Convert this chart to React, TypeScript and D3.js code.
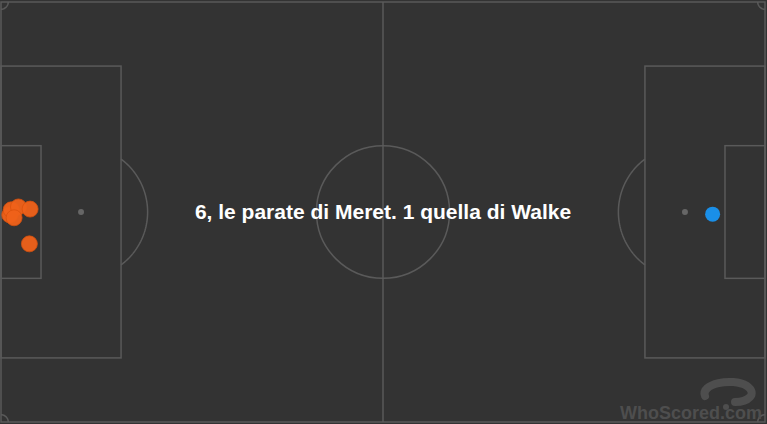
import { useMemo } from "react";
import * as d3 from "d3";

// pitch in metres, as WhoScored draws it
const PITCH_LENGTH = 105;
const PITCH_WIDTH = 58;

// saves, [x, y] in metres from the left goal line / top touchline
const meretSaves: [number, number][] = [
  [1.2, 29.4],
  [1.4, 28.7],
  [2.4, 28.3],
  [4.0, 28.6],
  [1.8, 29.8],
  [3.9, 33.4],
];
const walkeSaves: [number, number][] = [[97.8, 29.3]];

const title = "6, le parate di Meret. 1 quella di Walke";

const W = 767;
const H = 424;

export default function App() {
  const x = useMemo(() => d3.scaleLinear().domain([0, PITCH_LENGTH]).range([1, 765]), []);
  const y = useMemo(() => d3.scaleLinear().domain([0, PITCH_WIDTH]).range([2, 422]), []);

  const lineColor = "#5a5a5a";
  const midY = PITCH_WIDTH / 2;
  const boxDepth = 16.5;
  const boxHalf = 20.15;
  const sixDepth = 5.5;
  const sixHalf = 9.16;
  const circleR = 9.15;
  const spot = 11;

  const rx = x(circleR) - x(0);
  const ry = y(circleR) - y(0);

  // penalty arc outside the box
  const arcAngle = Math.acos((boxDepth - spot) / circleR);
  const arcPath = (side: 1 | -1) => {
    const cx = side === 1 ? spot : PITCH_LENGTH - spot;
    const pts: [number, number][] = d3.range(-arcAngle, arcAngle + 0.001, arcAngle / 30).map((a) => [
      x(cx + side * circleR * Math.cos(a)),
      y(midY + circleR * Math.sin(a)),
    ]);
    return d3.line()(pts) || "";
  };

  const cornerR = 1;
  const corner = (cx: number, cy: number, a0: number, a1: number) => {
    const pts: [number, number][] = d3.range(a0, a1 + 0.001, (a1 - a0) / 12).map((a) => [
      x(cx + cornerR * Math.cos(a)),
      y(cy + cornerR * Math.sin(a)),
    ]);
    return d3.line()(pts) || "";
  };

  return (
    <svg width={W} height={H} style={{ position: "absolute", left: 0, top: 0 }}>
      <rect width={W} height={H} fill="#333333" />
      <g fill="none" stroke={lineColor} strokeWidth={1.5}>
        <rect x={x(0)} y={y(0)} width={x(PITCH_LENGTH) - x(0)} height={y(PITCH_WIDTH) - y(0)} />
        <line x1={x(PITCH_LENGTH / 2)} x2={x(PITCH_LENGTH / 2)} y1={y(0)} y2={y(PITCH_WIDTH)} />
        <ellipse cx={x(PITCH_LENGTH / 2)} cy={y(midY)} rx={rx} ry={ry} />
        {/* left end */}
        <rect x={x(0)} y={y(midY - boxHalf)} width={x(boxDepth) - x(0)} height={y(midY + boxHalf) - y(midY - boxHalf)} />
        <rect x={x(0)} y={y(midY - sixHalf)} width={x(sixDepth) - x(0)} height={y(midY + sixHalf) - y(midY - sixHalf)} />
        <path d={arcPath(1)} />
        {/* right end */}
        <rect x={x(PITCH_LENGTH - boxDepth)} y={y(midY - boxHalf)} width={x(PITCH_LENGTH) - x(PITCH_LENGTH - boxDepth)} height={y(midY + boxHalf) - y(midY - boxHalf)} />
        <rect x={x(PITCH_LENGTH - sixDepth)} y={y(midY - sixHalf)} width={x(PITCH_LENGTH) - x(PITCH_LENGTH - sixDepth)} height={y(midY + sixHalf) - y(midY - sixHalf)} />
        <path d={arcPath(-1)} />
        <path d={corner(0, 0, 0, Math.PI / 2)} />
        <path d={corner(PITCH_LENGTH, 0, Math.PI / 2, Math.PI)} />
        <path d={corner(0, PITCH_WIDTH, -Math.PI / 2, 0)} />
        <path d={corner(PITCH_LENGTH, PITCH_WIDTH, Math.PI, 1.5 * Math.PI)} />
      </g>
      <circle cx={x(spot)} cy={y(midY)} r={3} fill="#666" />
      <circle cx={x(PITCH_LENGTH - spot)} cy={y(midY)} r={3} fill="#666" />

      {meretSaves.map(([sx, sy], i) => (
        <circle key={"m" + i} cx={x(sx)} cy={y(sy)} r={8} fill="#f0621a" stroke="#d9520e" strokeWidth={0.8} opacity={0.95} />
      ))}
      {walkeSaves.map(([sx, sy], i) => (
        <circle key={"w" + i} cx={x(sx)} cy={y(sy)} r={7.5} fill="#1a8fe8" />
      ))}

      <text
        x={383}
        y={219}
        textAnchor="middle"
        fill="#ffffff"
        fontFamily="Liberation Sans, Arial, Helvetica, sans-serif"
        fontWeight="bold"
        fontSize={21}
      >
        {title}
      </text>

      {/* watermark */}
      <g fill="none" stroke="#4e4e4e" strokeWidth={8} strokeLinecap="round">
        <path d="M705 396 C 700 384, 732 377, 747 386 C 758 394, 748 402, 735 402" />
      </g>
      <circle cx={726} cy={407} r={3} fill="#4e4e4e" />
      <text
        x={762}
        y={419}
        textAnchor="end"
        fill="#4e4e4e"
        fontFamily="Liberation Sans, Arial, sans-serif"
        fontWeight="bold"
        fontSize={18}
      >
        WhoScored.com
      </text>
    </svg>
  );
}
